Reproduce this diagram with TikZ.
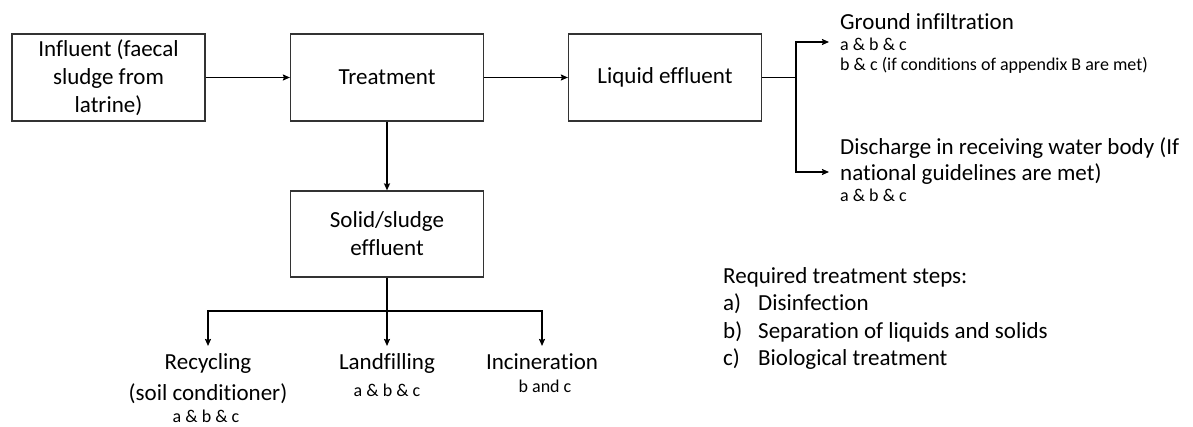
\documentclass[tikz,border=0pt]{standalone}
\usepackage{fontspec}
\setmainfont{Carlito}[Ligatures=NoCommon]
\usepackage{tikz}
\usetikzlibrary{arrows.meta}
\newcommand{\bigsz}{\fontsize{23}{28}\selectfont}
\newcommand{\smallsz}{\fontsize{18}{21}\selectfont}

\begin{document}
\begin{tikzpicture}[x=1pt, y=-1pt,
    box/.style={draw=black!80, line width=1.2pt, minimum width=193pt, minimum height=87pt, align=center, font=\bigsz, inner sep=0pt},
    arr/.style={line width=1.8pt, -{Stealth[length=7pt,width=6pt,inset=1pt]}},
    conn/.style={line width=1.8pt},
    bigtxt/.style={font=\bigsz, inner sep=0pt},
    smalltxt/.style={font=\smallsz, inner sep=0pt},
    outlbl/.style={font=\bigsz, inner xsep=0pt, inner ysep=7pt}]
    \useasboundingbox (0,0) rectangle (1193,427);

    % Boxes
    \node [box] (infl) at (108.5,77.5) {Influent (faecal\\sludge from\\latrine)};
    \node [box] (treat) at (387,77.5) {Treatment};
    \node [box] (liq) at (665,77.5) {Liquid effluent};
    \node [box, minimum height=86pt] (solid) at (387,234) {Solid/sludge\\effluent};

    % Liquid outlets
    \node [bigtxt, anchor=base west] (gi) at (840,30) {Ground infiltration};
    \node [smalltxt, anchor=base west] (gi-a) at (840,51) {a \& b \& c};
    \node [smalltxt, anchor=base west] (gi-b) at (840,71) {b \& c (if conditions of appendix B are met)};
    \node [bigtxt, anchor=base west] (dis) at (840,155) {Discharge in receiving water body (If};
    \node [bigtxt, anchor=base west] (dis-b) at (840,181) {national guidelines are met)};
    \node [smalltxt, anchor=base west] (dis-c) at (840,202) {a \& b \& c};
    \coordinate (split) at (796,77.5);
    \coordinate (gi-in) at (829,42);
    \coordinate (dis-in) at (829,172);

    % Solid outlets
    \node [outlbl, anchor=north] (recyc) at (208,346) {Recycling};
    \node [bigtxt, anchor=base] (recyc-b) at (208,400) {(soil conditioner)};
    \node [smalltxt, anchor=base] (recyc-c) at (206,422) {a \& b \& c};
    \node [outlbl, anchor=north] (landf) at (387,346) {Landfilling};
    \node [smalltxt, anchor=base] (landf-b) at (387,396) {a \& b \& c};
    \node [outlbl, anchor=north] (incin) at (542,346) {Incineration};
    \node [smalltxt, anchor=base] (incin-b) at (545,392) {b and c};
    \coordinate (bar-m) at (387,311);

    % Legend
    \node [bigtxt, anchor=base west] (req) at (723,284) {Required treatment steps:};
    \node [bigtxt, anchor=base west] (step-a-l) at (723,311) {a)};
    \node [bigtxt, anchor=base west] (step-a) at (758,311) {Disinfection};
    \node [bigtxt, anchor=base west] (step-b-l) at (723,338) {b)};
    \node [bigtxt, anchor=base west] (step-b) at (758,338) {Separation of liquids and solids};
    \node [bigtxt, anchor=base west] (step-c-l) at (723,365) {c)};
    \node [bigtxt, anchor=base west] (step-c) at (758,365) {Biological treatment};

    % Arrows and lines
    \draw [arr] (infl.east) -- (treat.west);
    \draw [arr] (treat.east) -- (liq.west);
    \draw [arr] (treat.south) -- (solid.north);
    \draw [conn] (liq.east) -- (split);
    \draw [arr] (split) |- (gi-in);
    \draw [arr] (split) |- (dis-in);
    \draw [conn] (solid.south) -- (bar-m);
    \draw [arr] (bar-m) -| (recyc.north);
    \draw [arr] (bar-m) -- (landf.north);
    \draw [arr] (bar-m) -| (incin.north);
\end{tikzpicture}
\end{document}
